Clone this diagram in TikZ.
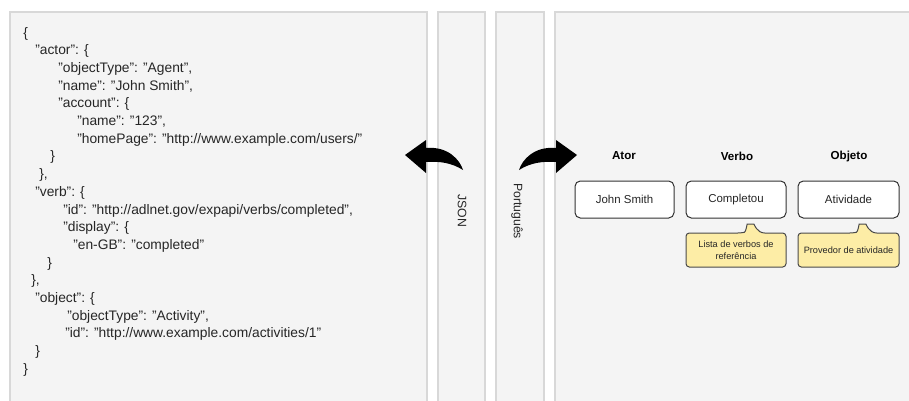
\documentclass[tikz,border=0pt]{standalone}
\usepackage{fontspec}
\setmainfont{Liberation Sans}
\definecolor{panelfill}{HTML}{F4F4F4}
\definecolor{panelline}{HTML}{D8D8D8}
\definecolor{boxline}{HTML}{333333}
\definecolor{notefill}{HTML}{FDEDA6}
\definecolor{noteline}{HTML}{4A4A4A}
\tikzset{
  panel/.style={fill=panelfill,draw=panelline,line width=1.1pt},
  code/.style={anchor=base west,inner sep=0pt,font=\fontsize{10.35pt}{12pt}\selectfont,text=black!85},
  head/.style={inner sep=0pt,font=\fontsize{8.7pt}{10pt}\selectfont\bfseries},
  itembox/.style={draw=boxline,fill=white,line width=0.75pt,rounded corners=4pt},
  itemtext/.style={inner sep=0pt,font=\fontsize{8.6pt}{10pt}\selectfont,text=black!85},
  note/.style={draw=noteline,fill=notefill,line width=0.75pt,rounded corners=2.5pt},
  notetext/.style={inner sep=0pt,align=center,font=\fontsize{6.9pt}{8.6pt}\selectfont,text=black!85},
  striptext/.style={inner sep=0pt,rotate=-90,font=\fontsize{9.2pt}{10pt}\selectfont,text=black!85},
  bigarrow/.style={fill=black,draw=none}
}
\begin{document}
\begin{tikzpicture}[x=0.75pt,y=-0.75pt]
\useasboundingbox (0,0) rectangle (909,400);
\clip (0,0) rectangle (909,400);
\fill[white] (0,0) rectangle (909,400);
% panels
\draw[panel] (10,12) rectangle (427,415);
\draw[panel] (438,12) rectangle (485,415);
\draw[panel] (496,12) rectangle (544,415);
\draw[panel] (555,12) rectangle (925,415);
% JSON code
\node[code] (l0)  at (23,37.0)  {\{};
\node[code] (l1)  at (35,54.7)  {"actor": \{};
\node[code] (l2)  at (58,72.4)  {"objectType": "Agent",};
\node[code] (l3)  at (58,90.1)  {"name": "John Smith",};
\node[code] (l4)  at (58,107.8) {"account": \{};
\node[code] (l5)  at (77,125.5) {"name": "123",};
\node[code] (l6)  at (77,143.2) {"homePage": "http://www.example.com/users/"};
\node[code] (l7)  at (50,160.9) {\}};
\node[code] (l8)  at (39,178.6) {\},};
\node[code] (l9)  at (35,196.3) {"verb": \{};
\node[code] (l10) at (63,214.0) {"id": "http://adlnet.gov/expapi/verbs/completed",};
\node[code] (l11) at (63,231.7) {"display": \{};
\node[code] (l12) at (73,249.4) {"en-GB": "completed"};
\node[code] (l13) at (47,267.1) {\}};
\node[code] (l14) at (31,284.8) {\},};
\node[code] (l15) at (35,302.5) {"object": \{};
\node[code] (l16) at (67,320.2) {"objectType": "Activity",};
\node[code] (l17) at (65,337.9) {"id": "http://www.example.com/activities/1"};
\node[code] (l18) at (35,355.6) {\}};
\node[code] (l19) at (23,373.3) {\}};
% strip labels
\node[striptext] (json) at (462,211) {JSON};
\node[striptext] (pt) at (517,211) {Português};
% arrows
\path[bigarrow] (405,155) -- (426,140) -- (426,148)
  .. controls (448,146) and (460,160) .. (463,170)
  .. controls (452,163) and (440,161) .. (426,162) -- (426,173) -- cycle;
\path[bigarrow] (577,155) -- (556,140) -- (556,148)
  .. controls (534,146) and (522,160) .. (519,170)
  .. controls (530,163) and (542,161) .. (556,162) -- (556,173) -- cycle;
% headers
\node[head] (hator) at (624,156) {Ator};
\node[head] (hverbo) at (737,156) {Verbo};
\node[head] (hobj) at (849,156) {Objeto};
% boxes
\draw[itembox] (575,181) rectangle (674,218);
\node[itemtext] (ator) at (624.5,199.5) {John Smith};
\draw[itembox] (686,181) rectangle (786,218);
\node[itemtext] (verbo) at (736,199.5) {Completou};
\draw[itembox] (798,181) rectangle (899,218);
\node[itemtext] (obj) at (848.5,199.5) {Atividade};
% notes
\draw[note] (686,267) -- (686,233) -- (741,233)
  .. controls (746,232) and (747,224) .. (750.5,224)
  .. controls (754,224) and (757,233) .. (768,233)
  -- (786,233) -- (786,267) -- cycle;
\node[notetext] (n1) at (736,250) {Lista de verbos de\\referência};
\draw[note] (798,267) -- (798,233) -- (853,233)
  .. controls (858,232) and (859,224) .. (862.5,224)
  .. controls (866,224) and (869,233) .. (880,233)
  -- (899,233) -- (899,267) -- cycle;
\node[notetext] (n2) at (848.5,250) {Provedor de atividade};
\end{tikzpicture}
\end{document}
